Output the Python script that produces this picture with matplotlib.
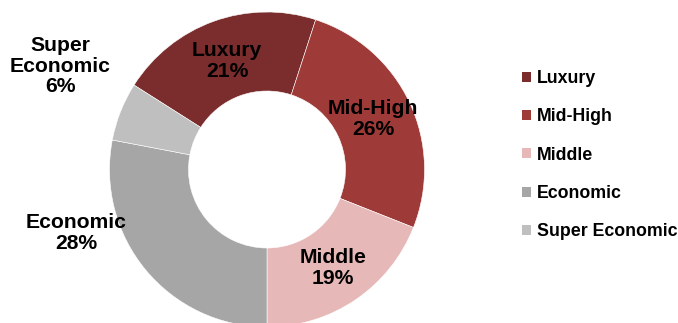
import numpy as np
import matplotlib.pyplot as plt
from matplotlib.patches import Patch

plt.rcParams['font.family'] = ['Liberation Sans', 'DejaVu Sans']

# segment shares (%)
segments = ["Luxury", "Mid-High", "Middle", "Economic", "Super Economic"]
shares = [21, 26, 19, 28, 6]
colors = ["#7B2C2C", "#9E3A38", "#E6B8B7", "#A6A6A6", "#BFBFBF"]

# label text positions in pixel coords (x, y from top)
label_text = ["Luxury\n21%", "Mid-High\n26%", "Middle\n19%", "Economic\n28%", "Super\nEconomic\n6%"]
label_pos = [(227, 61), (373, 119), (333, 268), (76, 233), (60, 66)]

W, H = 678, 323
fig = plt.figure(figsize=(W / 100, H / 100), dpi=100)
ax = fig.add_axes([0, 0, 1, 1])

cx, cy, R = 267, H - 169.5, 157.5
wedges, _ = ax.pie(
    shares, colors=colors, startangle=147.6, counterclock=False,
    center=(cx, cy), radius=R, frame=True,
    wedgeprops=dict(width=R - 78.5, edgecolor='white', linewidth=0.4),
)
ax.set_xlim(0, W)
ax.set_ylim(0, H)
ax.set_aspect('auto')
ax.axis('off')

for txt, (x, y) in zip(label_text, label_pos):
    ax.text(x, H - y, txt, ha='center', va='center', fontsize=15.2,
            fontweight='bold', color='black', linespacing=1.1)

handles = [Patch(facecolor=c, edgecolor='none') for c in colors]
leg = ax.legend(
    handles, segments, loc='upper left', bbox_to_anchor=(522 / W, 1 - 70 / H),
    frameon=False, prop=dict(weight='bold', size=12.8),
    handlelength=0.5, handleheight=0.5, handletextpad=0.35,
    labelspacing=1.2, borderpad=0, borderaxespad=0,
)

fig.savefig('out.png', dpi=100, facecolor='white')
